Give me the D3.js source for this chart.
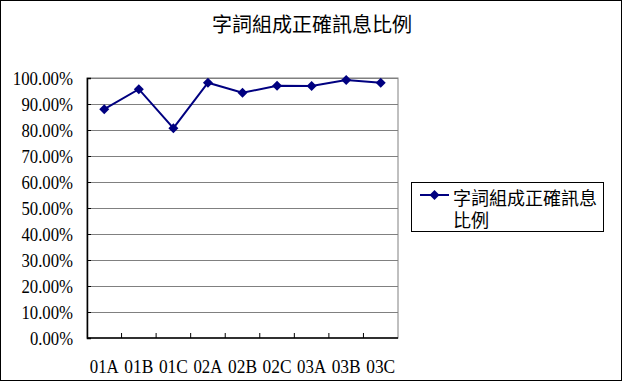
<!DOCTYPE html>
<html>
<head>
<meta charset="utf-8">
<script src="https://cdn.jsdelivr.net/npm/d3@7"></script>
<style>
  body { margin: 0; background: #fff; }
  .cjk { font-family: "Noto Sans CJK TC", "Noto Sans CJK SC", sans-serif; fill: #000; }
</style>
</head>
<body>
<div class="chart"></div>
<script>
// data
var categories = ["01A", "01B", "01C", "02A", "02B", "02C", "03A", "03B", "03C"];
var ratios = [0.880, 0.957, 0.807, 0.982, 0.943, 0.970, 0.969, 0.992, 0.982];
var yTicks = [0, 0.1, 0.2, 0.3, 0.4, 0.5, 0.6, 0.7, 0.8, 0.9, 1.0];
var chartTitle = "字詞組成正確訊息比例";
var legendLines = ["字詞組成正確訊息", "比例"];

var svgWidth = 624;
var svgHeight = 383;
var serif = "'Liberation Serif', 'Times New Roman', serif";

var margin = { top: 78, right: 226, bottom: 45, left: 87 };
var width = 398 - margin.left;
var height = 338 - margin.top;

var svg = d3.select(".chart")
  .append("svg")
  .attr("width", svgWidth)
  .attr("height", svgHeight);

// outer frame
svg.append("rect")
  .attr("x", 0.5).attr("y", 0.5)
  .attr("width", 621).attr("height", 380)
  .attr("fill", "none")
  .attr("stroke", "#000")
  .attr("stroke-width", 1);

svg.append("text")
  .attr("class", "cjk")
  .attr("x", 312)
  .attr("y", 32)
  .attr("text-anchor", "middle")
  .style("font-size", "20px")
  .text(chartTitle);

var chartGroup = svg.append("g")
  .attr("transform", `translate(${margin.left}, ${margin.top})`);

var x = d3.scaleBand()
  .domain(categories)
  .range([0, width]);

var y = d3.scaleLinear()
  .domain([0, 1])
  .range([height, 0]);

// plot area border (gray)
chartGroup.append("rect")
  .attr("x", 0).attr("y", 0)
  .attr("width", width).attr("height", height)
  .attr("fill", "none")
  .attr("stroke", "#808080");

// gridlines
chartGroup.append("g")
  .selectAll("line")
  .data(yTicks.filter(d => d > 0))
  .enter()
  .append("line")
  .attr("x1", 0)
  .attr("x2", width)
  .attr("y1", d => Math.round(y(d)) + 0.5)
  .attr("y2", d => Math.round(y(d)) + 0.5)
  .attr("stroke", "#808080");

// y axis
var leftAxis = d3.axisLeft(y)
  .tickValues(yTicks)
  .tickFormat(d3.format(".2%"))
  .tickSize(-4)
  .tickPadding(14);

var yAxis = chartGroup.append("g").call(leftAxis);
yAxis.attr("font-family", serif).attr("font-size", 19);
yAxis.select(".domain").attr("stroke", "#000").attr("stroke-width", 1.5);
yAxis.selectAll("line").attr("stroke", "#000");
yAxis.selectAll("text")
  .style("font-family", serif)
  .style("font-size", "19px")
  .attr("fill", "#000")
  .attr("textLength", function() { return this.textContent.length * 8.6; })
  .attr("lengthAdjust", "spacingAndGlyphs");

// x axis: ticks at category boundaries, pointing up
var boundaries = d3.range(1, categories.length).map(i => x.step() * i);
chartGroup.append("line")
  .attr("x1", 0).attr("x2", width)
  .attr("y1", height).attr("y2", height)
  .attr("stroke", "#000").attr("stroke-width", 1.5);
chartGroup.append("g")
  .selectAll("line")
  .data(boundaries)
  .enter()
  .append("line")
  .attr("x1", d => d).attr("x2", d => d)
  .attr("y1", height).attr("y2", height - 5)
  .attr("stroke", "#000");

chartGroup.append("g")
  .selectAll("text")
  .data(categories)
  .enter()
  .append("text")
  .style("font-family", serif)
  .style("font-size", "19px")
  .attr("x", d => x(d) + x.bandwidth() / 2 - 14.5)
  .attr("y", height + 35)
  .attr("textLength", 29)
  .attr("lengthAdjust", "spacingAndGlyphs")
  .text(d => d);

// line + markers
var lineGen = d3.line()
  .x((d, i) => x(categories[i]) + x.bandwidth() / 2)
  .y(d => y(d));

chartGroup.append("path")
  .datum(ratios)
  .attr("d", lineGen)
  .attr("fill", "none")
  .attr("stroke", "#000080")
  .attr("stroke-width", 2);

var diamond = "M0,-5L5,0L0,5L-5,0Z";
chartGroup.selectAll("path.marker")
  .data(ratios)
  .enter()
  .append("path")
  .attr("class", "marker")
  .attr("d", diamond)
  .attr("transform", (d, i) => `translate(${x(categories[i]) + x.bandwidth() / 2}, ${y(d)})`)
  .attr("fill", "#000080");

// legend
var legend = svg.append("g");
legend.append("rect")
  .attr("x", 411.5).attr("y", 182.5)
  .attr("width", 192).attr("height", 49)
  .attr("fill", "#fff")
  .attr("stroke", "#000");
legend.append("line")
  .attr("x1", 420).attr("x2", 449)
  .attr("y1", 195).attr("y2", 195)
  .attr("stroke", "#000080").attr("stroke-width", 2);
legend.append("path")
  .attr("d", diamond)
  .attr("transform", "translate(434.5, 195)")
  .attr("fill", "#000080");
var legendText = legend.append("text")
  .attr("class", "cjk")
  .style("font-size", "18px");
legendText.selectAll("tspan")
  .data(legendLines)
  .enter()
  .append("tspan")
  .attr("x", 453)
  .attr("y", (d, i) => 205 + i * 21.5)
  .text(d => d);
</script>
</body>
</html>
